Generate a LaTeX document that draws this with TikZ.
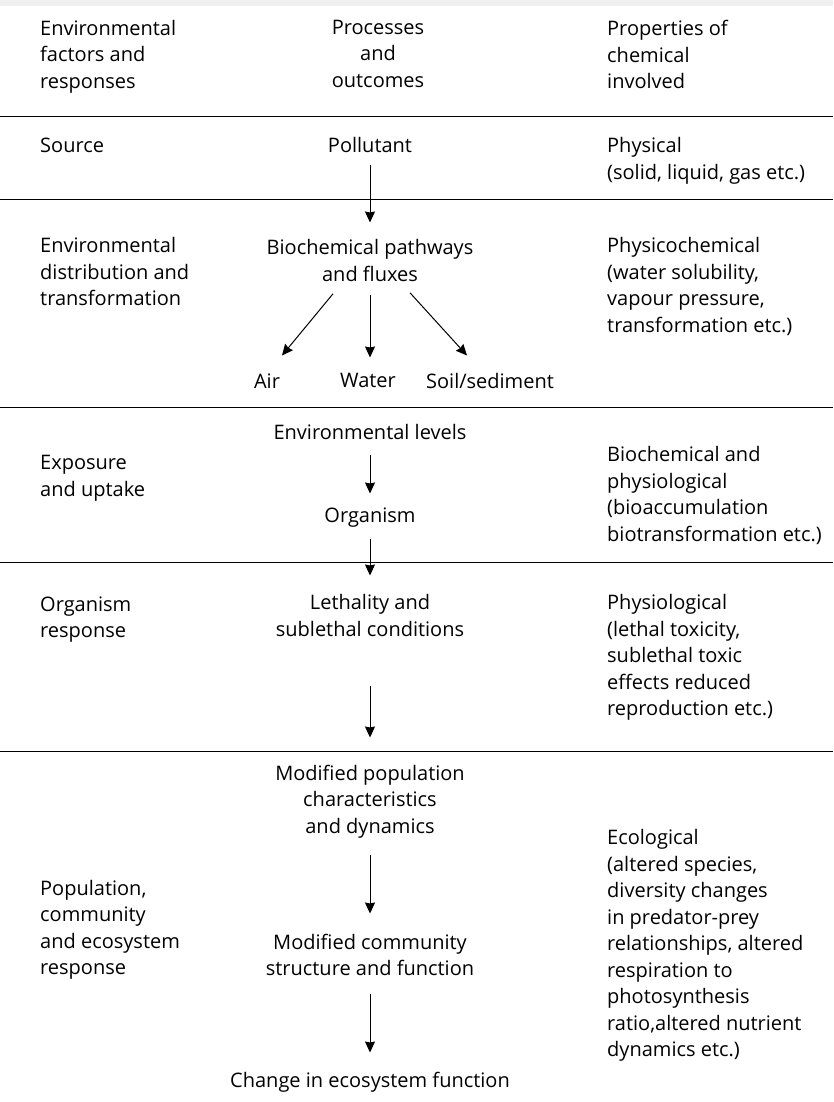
\documentclass[tikz,border=0pt]{standalone}
\usepackage{fontspec}
\setmainfont{Open Sans}
\usetikzlibrary{arrows.meta, positioning}

\begin{document}
\begin{tikzpicture}[x=1pt, y=-1pt, >={Stealth[length=11pt,width=10pt,inset=1pt]},
  every node/.style={inner sep=0pt, font=\fontsize{20}{26.5}\selectfont},
  lefttxt/.style={anchor=north west, align=left},
  midtxt/.style={anchor=north, align=center},
  righttxt/.style={anchor=north west, align=left},
  rule/.style={line width=1pt},
  flow/.style={->, line width=1pt}]
  \useasboundingbox (0,0) rectangle (833,1102);
  \fill[gray!12] (0,0) rectangle (833,6);

  % horizontal rules between the rows
  \foreach \y in {117, 199, 407, 562, 751}
    \draw[rule] (0,\y) -- (833,\y);

  % header row
  \node[lefttxt] (hleft) at (40,20) {Environmental\\factors and\\responses};
  \node[midtxt] (hmid) at (378,20) {Processes\\and\\outcomes};
  \node[righttxt] (hright) at (607,20) {Properties of\\chemical\\involved};

  % source
  \node[lefttxt] (src) at (40,137.5) {Source};
  \node[midtxt] (pol) at (370,137.5) {Pollutant};
  \node[righttxt] (phys) at (607,137.5) {Physical\\(solid, liquid, gas etc.)};

  % distribution and transformation
  \node[lefttxt] (dist) at (40,237.5) {Environmental\\distribution and\\transformation};
  \node[midtxt] (bio) at (370,239.5) {Biochemical pathways\\and fluxes};
  \node[righttxt] (pchem) at (607,237.5) {Physicochemical\\(water solubility,\\vapour pressure,\\transformation etc.)};
  \node[midtxt] (air) at (267,373.5) {Air};
  \node[midtxt] (water) at (368,373.5) {Water};
  \node[midtxt] (soil) at (490,373.5) {Soil/sediment};

  % exposure and uptake
  \node[lefttxt] (expo) at (40,455.5) {Exposure\\and uptake};
  \node[midtxt] (envlev) at (370,424.5) {Environmental levels};
  \node[midtxt] (org) at (370,507.5) {Organism};
  \node[righttxt] (bphys) at (607,446.5) {Biochemical and\\physiological\\(bioaccumulation\\biotransformation etc.)};

  % organism response
  \node[lefttxt] (orgr) at (40,596.5) {Organism\\response};
  \node[midtxt] (leth) at (370,594.5) {Lethality and\\sublethal conditions};
  \node[righttxt] (physl) at (607,594.5) {Physiological\\(lethal toxicity,\\sublethal toxic\\effects reduced\\reproduction etc.)};

  % population, community and ecosystem
  \node[lefttxt] (popr) at (40,880) {Population,\\community\\and ecosystem\\response};
  \node[midtxt] (modpop) at (370,764.5) {Modified population\\characteristics\\and dynamics};
  \node[midtxt] (modcom) at (370,933.5) {Modified community\\structure and function};
  \node[midtxt] (chg) at (370,1071.5) {Change in ecosystem function};
  \node[righttxt] (ecol) at (607,829.5) {Ecological\\(altered species,\\diversity changes\\in predator-prey\\relationships, altered\\respiration to\\photosynthesis\\ratio,altered nutrient\\dynamics etc.)};

  % flows
  \draw[flow, shorten <=12pt, shorten >=17pt] (pol) -- (bio);
  \draw[flow] ([xshift=-37pt,yshift=-12pt]bio.south) -- ([xshift=15pt,yshift=18pt]air.north);
  \draw[flow] ([yshift=-13pt]bio.south) -- ([xshift=2pt,yshift=16pt]water.north);
  \draw[flow] ([xshift=40pt,yshift=-11pt]bio.south) -- ([xshift=-23pt,yshift=18pt]soil.north);
  \draw[flow, shorten <=15pt, shorten >=14pt] (envlev) -- (org);
  \draw[flow, shorten <=12pt, shorten >=19pt] (org) -- (leth);
  \draw[flow, shorten <=49pt, shorten >=27pt] (leth) -- (modpop);
  \draw[flow, shorten <=17pt, shorten >=20pt] (modpop) -- (modcom);
  \draw[flow, shorten <=18pt, shorten >=19pt] (modcom) -- (chg);
\end{tikzpicture}
\end{document}
